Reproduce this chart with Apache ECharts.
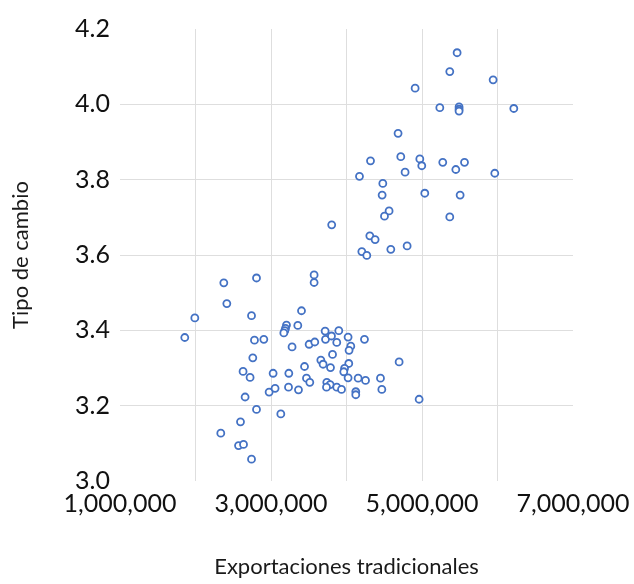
<!DOCTYPE html>
<html>
<head>
<meta charset="utf-8">
<script src="https://cdn.jsdelivr.net/npm/echarts@6/dist/echarts.min.js"></script>
<style>html,body{margin:0;padding:0;background:#fff}#c{width:634px;height:584px}</style>
</head>
<body>
<div id="c"></div>
<script>
var exportaciones = [
  2375000, 2808000, 3571000, 3571000, 2415000, 2742000, 1991000, 3404000, 1858000, 3205000,
  3192000, 3183000, 3170000, 3355000, 2781000, 2905000, 3279000, 3505000, 3580000, 3717000,
  3898000, 3722000, 3801000, 3871000, 2759000, 3815000, 3660000, 3690000, 3444000, 3788000,
  2630000, 2723000, 3028000, 3236000, 3470000, 3514000, 3739000, 3783000, 3735000, 3871000,
  3934000, 2657000, 2975000, 3054000, 3232000, 3364000, 2808000, 3130000, 2596000, 2335000,
  2570000, 2636000, 2742000, 4021000, 4238000, 4057000, 4034000, 4030000, 3974000, 3964000,
  4021000, 4154000, 4252000, 4450000, 4468000, 4697000, 4962000, 4123000, 4123000, 3804000,
  4318000, 4719000, 4971000, 4997000, 4776000, 5275000, 5448000, 5563000, 5964000, 4172000,
  4481000, 4472000, 5037000, 5505000, 4564000, 4503000, 5368000, 4309000, 4379000, 4587000,
  4803000, 4203000, 4269000, 5465000, 5368000, 4909000, 5942000, 5236000, 5491000, 5491000,
  5491000, 6216000, 4683000
];
var tipoCambio = [
  3.526, 3.539, 3.547, 3.527, 3.471, 3.439, 3.433, 3.452, 3.381, 3.414,
  3.405, 3.399, 3.393, 3.413, 3.374, 3.376, 3.356, 3.363, 3.369, 3.398,
  3.399, 3.376, 3.385, 3.368, 3.327, 3.336, 3.321, 3.310, 3.304, 3.301,
  3.291, 3.275, 3.286, 3.286, 3.273, 3.262, 3.262, 3.256, 3.249, 3.249,
  3.243, 3.223, 3.236, 3.246, 3.249, 3.242, 3.190, 3.178, 3.157, 3.127,
  3.094, 3.097, 3.058, 3.382, 3.376, 3.358, 3.347, 3.312, 3.299, 3.290,
  3.274, 3.273, 3.267, 3.273, 3.243, 3.316, 3.217, 3.237, 3.229, 3.680,
  3.850, 3.861, 3.855, 3.837, 3.820, 3.846, 3.827, 3.846, 3.817, 3.809,
  3.790, 3.759, 3.764, 3.759, 3.717, 3.703, 3.701, 3.651, 3.641, 3.615,
  3.624, 3.609, 3.599, 4.137, 4.087, 4.043, 4.065, 3.991, 3.993, 3.987,
  3.982, 3.989, 3.923
];
var xLabelValues = [1000000, 3000000, 5000000, 7000000];
var xTitle = 'Exportaciones tradicionales';
var yTitle = 'Tipo de cambio';

var points = exportaciones.map(function (x, i) { return [x, tipoCambio[i]]; });

var chart = echarts.init(document.getElementById('c'), null, { renderer: 'canvas' });
var labelFont = 'Lato';
chart.setOption({
  animation: false,
  backgroundColor: '#ffffff',
  grid: { left: 120, right: 61, top: 29, bottom: 103 },
  xAxis: {
    type: 'value',
    min: 1000000, max: 7000000, interval: 1000000,
    name: xTitle,
    nameLocation: 'middle',
    nameGap: 75,
    nameTextStyle: { fontFamily: labelFont, fontSize: 22, color: '#1a1a1a' },
    axisLine: { show: false },
    axisTick: { show: false },
    splitLine: { show: true, showMinLine: false, showMaxLine: false, lineStyle: { color: '#dedede', width: 1 } },
    axisLabel: {
      margin: 10,
      fontFamily: labelFont, fontSize: 25, color: '#111',
      formatter: function (v) {
        return xLabelValues.indexOf(v) >= 0 ? v.toLocaleString('en-US') : '';
      }
    }
  },
  yAxis: {
    type: 'value',
    min: 3.0, max: 4.2, interval: 0.2,
    name: yTitle,
    nameLocation: 'middle',
    nameRotate: 90,
    nameGap: 88,
    nameTextStyle: { fontFamily: labelFont, fontSize: 22, color: '#1a1a1a' },
    axisLine: { show: false },
    axisTick: { show: false },
    splitLine: { show: true, showMinLine: false, showMaxLine: false, lineStyle: { color: '#dedede', width: 1 } },
    axisLabel: {
      margin: 10,
      fontFamily: labelFont, fontSize: 25, color: '#111',
      formatter: function (v) { return v.toFixed(1); }
    }
  },
  series: [{
    type: 'scatter',
    data: points,
    symbol: 'circle',
    symbolSize: 7,
    itemStyle: { color: '#ffffff', borderColor: '#4472C4', borderWidth: 1.8, opacity: 1 }
  }]
});
</script>
</body>
</html>
